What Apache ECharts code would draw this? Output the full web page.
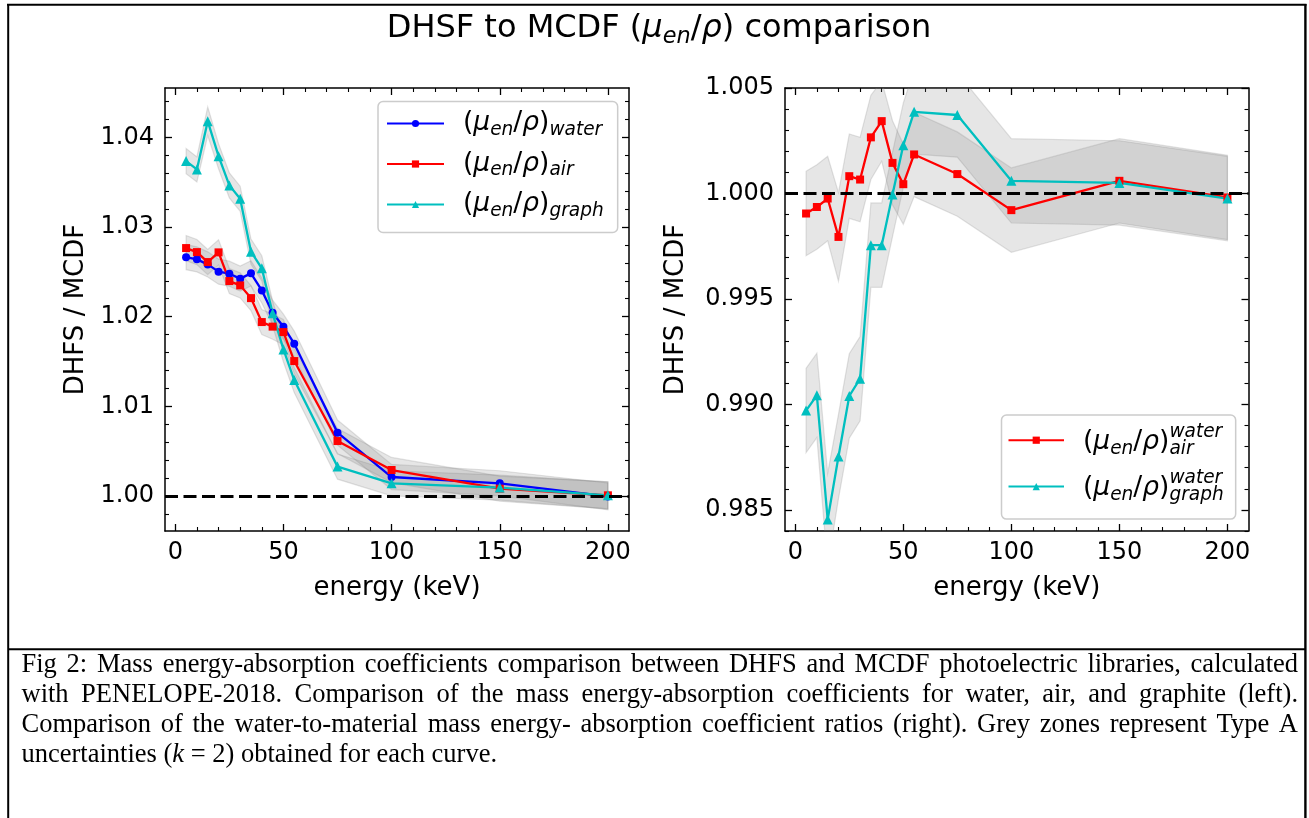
<!DOCTYPE html>
<html><head><meta charset="utf-8">
<script src="https://cdn.jsdelivr.net/npm/echarts@6/dist/echarts.min.js"></script>
<style>html,body{margin:0;padding:0;background:#fff}#c{width:1309px;height:818px}</style>
</head><body><div id="c"></div>
<script>
// ---------------- data ----------------
const energy = [5, 10, 15, 20, 25, 30, 35, 40, 45, 50, 55, 75, 100, 150, 200];
const muWater = [1.02664, 1.02639, 1.02583, 1.02502, 1.02479, 1.02424, 1.02483, 1.02293, 1.02044, 1.01888, 1.01699, 1.00707, 1.00212, 1.00142, 0.99995];
const muAir   = [1.02765, 1.02720, 1.02609, 1.02717, 1.02397, 1.02349, 1.02207, 1.01940, 1.01889, 1.01828, 1.01505, 1.00613, 1.00290, 1.00082, 1.00008];
const muGraph = [1.03735, 1.03642, 1.04180, 1.03790, 1.03464, 1.03315, 1.02725, 1.02539, 1.02037, 1.01635, 1.01293, 1.00328, 1.00142, 1.00094, 1.00008];
const uWater  = [0.0014, 0.0014, 0.0014, 0.0014, 0.0014, 0.0014, 0.0014, 0.0014, 0.0014, 0.0014, 0.0014, 0.0014, 0.0014, 0.0014, 0.0015];
const uAir    = [0.0014, 0.0014, 0.0014, 0.0014, 0.0014, 0.0014, 0.0014, 0.0014, 0.0014, 0.0014, 0.0014, 0.0014, 0.0014, 0.0014, 0.0015];
const uGraph  = [0.0014, 0.0014, 0.0016, 0.0014, 0.0014, 0.0014, 0.0014, 0.0014, 0.0014, 0.0014, 0.0014, 0.0014, 0.0014, 0.0014, 0.0015];
const ratioAir   = [0.99905, 0.99936, 0.99976, 0.99794, 1.00082, 1.00066, 1.00266, 1.00343, 1.00145, 1.00044, 1.00185, 1.00092, 0.99921, 1.00060, 0.99981];
const ratioGraph = [0.98971, 0.99043, 0.98454, 0.98753, 0.99040, 0.99122, 0.99755, 0.99755, 0.99995, 1.00229, 1.00387, 1.00372, 1.00060, 1.00050, 0.99976];
const uRatioAir   = [0.0020, 0.0020, 0.0020, 0.0021, 0.0020, 0.0020, 0.0020, 0.0019, 0.0020, 0.0019, 0.0020, 0.0020, 0.0020, 0.0020, 0.0020];
const uRatioGraph = [0.0020, 0.0020, 0.0022, 0.0020, 0.0020, 0.0020, 0.0020, 0.0020, 0.0020, 0.0020, 0.0020, 0.0020, 0.0020, 0.0020, 0.0020];
const xTicks = [0, 50, 100, 150, 200];
const yTicksLeft = [1.00, 1.01, 1.02, 1.03, 1.04];
const yTicksRight = [0.985, 0.990, 0.995, 1.000, 1.005];
const captionLines = [
  'Fig 2: Mass energy-absorption coefficients comparison between DHFS and MCDF photoelectric libraries, calculated',
  'with PENELOPE-2018. Comparison of the mass energy-absorption coefficients for water, air, and graphite (left).',
  'Comparison of the water-to-material mass energy- absorption coefficient ratios (right). Grey zones represent Type A'
];
const captionLast = 'uncertainties ({k|k} = 2) obtained for each curve.';

// ---------------- styling ----------------
const FONT = 'DejaVu Sans';
const SERIF = 'Liberation Serif';
const TICK_FS = 24, NAME_FS = 26, LEG_FS = 26.5, TITLE_FS = 32, CAP_FS = 26.5;
const BLUE = '#0000ff', RED = '#ff0000', CYAN = '#00bfbf';
const X_RANGE = [-4.75, 209.75];
const Y_LEFT = [0.9961, 1.0455];
const Y_RIGHT = [0.984, 1.005];

function minorTicks(min, max, step, ratio) {
  const out = [];
  for (let k = Math.ceil(min / step - 1e-9); k * step <= max + 1e-9; k++) {
    if (k % ratio !== 0) out.push(+(k * step).toFixed(6));
  }
  return out;
}

const spine = { onZero: false, lineStyle: { color: '#000', width: 1.5 } };
const majorTick = (vals) => ({ inside: true, length: 7, lineStyle: { color: '#000', width: 1.3 }, customValues: vals });
const minorTick = (vals) => ({ inside: true, length: 4, lineStyle: { color: '#000', width: 1.1 }, customValues: vals });

function makeX(g, nameGap) {
  const base = { type: 'value', gridIndex: g, min: X_RANGE[0], max: X_RANGE[1], splitLine: { show: false } };
  const minor = minorTicks(X_RANGE[0], X_RANGE[1], 10, 5);
  return [
    Object.assign({}, base, {
      position: 'bottom', axisLine: spine, axisTick: majorTick(xTicks),
      axisLabel: { customValues: xTicks, fontSize: TICK_FS, fontFamily: FONT, color: '#000', margin: 10 },
      name: 'energy (keV)', nameLocation: 'middle', nameGap: nameGap,
      nameTextStyle: { fontSize: NAME_FS, fontFamily: FONT, color: '#000' }
    }),
    Object.assign({}, base, { position: 'bottom', axisLine: { show: false, onZero: false }, axisTick: minorTick(minor), axisLabel: { show: false } }),
    Object.assign({}, base, { position: 'top', axisLine: spine, axisTick: majorTick(xTicks), axisLabel: { show: false } }),
    Object.assign({}, base, { position: 'top', axisLine: { show: false, onZero: false }, axisTick: minorTick(minor), axisLabel: { show: false } })
  ];
}
function makeY(g, range, major, minorStep, digits, nameGap) {
  const base = { type: 'value', gridIndex: g, min: range[0], max: range[1], splitLine: { show: false } };
  const minor = minorTicks(range[0], range[1], minorStep, 5);
  return [
    Object.assign({}, base, {
      position: 'left', axisLine: spine, axisTick: majorTick(major),
      axisLabel: { customValues: major, fontSize: TICK_FS, fontFamily: FONT, color: '#000', margin: 11,
        formatter: (v) => v.toFixed(digits) },
      name: 'DHFS / MCDF', nameLocation: 'middle', nameGap: nameGap, nameRotate: 90,
      nameTextStyle: { fontSize: NAME_FS, fontFamily: FONT, color: '#000' }
    }),
    Object.assign({}, base, { position: 'left', axisLine: { show: false, onZero: false }, axisTick: minorTick(minor), axisLabel: { show: false } }),
    Object.assign({}, base, { position: 'right', axisLine: spine, axisTick: majorTick(major), axisLabel: { show: false } }),
    Object.assign({}, base, { position: 'right', axisLine: { show: false, onZero: false }, axisTick: minorTick(minor), axisLabel: { show: false } })
  ];
}

function band(xi, yi, xs, ys, us) {
  return {
    type: 'custom', xAxisIndex: xi, yAxisIndex: yi, clip: true, silent: true, z: 1,
    encode: { x: 0, y: 1 },
    data: [[xs[0], ys[0]]],
    renderItem: function (params, api) {
      const pts = [];
      for (let i = 0; i < xs.length; i++) pts.push(api.coord([xs[i], ys[i] + us[i]]));
      for (let i = xs.length - 1; i >= 0; i--) pts.push(api.coord([xs[i], ys[i] - us[i]]));
      return { type: 'polygon', shape: { points: pts },
        style: { fill: 'rgba(128,128,128,0.2)', stroke: 'rgba(128,128,128,0.22)', lineWidth: 1.2 } };
    }
  };
}
function curve(name, xi, yi, ys, color, symbol, size) {
  return {
    name: name, type: 'line', xAxisIndex: xi, yAxisIndex: yi, z: 3,
    data: energy.map((x, i) => [x, ys[i]]),
    symbol: symbol, symbolSize: size, showSymbol: true,
    lineStyle: { color: color, width: 2.3 }, itemStyle: { color: color },
    emphasis: { disabled: true }
  };
}
function dashed(xi, yi) {
  return {
    type: 'line', xAxisIndex: xi, yAxisIndex: yi, data: [], z: 6, silent: true,
    markLine: { silent: true, symbol: 'none', z: 6, label: { show: false },
      lineStyle: { color: '#000', width: 3.2, type: [13, 5.5] },
      emphasis: { disabled: true },
      data: [{ yAxis: 1 }] }
  };
}

// measure width of "(μen/ρ)" for stacked super/subscripts
const cv = document.createElement('canvas').getContext('2d');
function tw(txt, size, italic, fam) { cv.font = (italic ? 'italic ' : '') + size + 'px ' + fam; return cv.measureText(txt).width; }
const SUB_FS = LEG_FS * 0.7;
const W_MAIN = tw('(', LEG_FS, false, FONT) + tw('μ', LEG_FS, true, FONT) + tw('en', SUB_FS, true, FONT)
  + tw('/', LEG_FS, false, FONT) + tw('ρ', LEG_FS, true, FONT) + tw(')', LEG_FS, false, FONT);

const legRichLeft = {
  m: { fontSize: LEG_FS, fontFamily: FONT, color: '#000', lineHeight: 20, height: 20 },
  i: { fontSize: LEG_FS, fontFamily: FONT, fontStyle: 'italic', color: '#000', lineHeight: 20, height: 20 },
  s: { fontSize: SUB_FS, fontFamily: FONT, fontStyle: 'italic', color: '#000', lineHeight: 7, height: 7, verticalAlign: 'bottom' }
};
const legRichRight = {
  m: { fontSize: LEG_FS, fontFamily: FONT, color: '#000', lineHeight: 16, height: 16 },
  i: { fontSize: LEG_FS, fontFamily: FONT, fontStyle: 'italic', color: '#000', lineHeight: 16, height: 16 },
  s: { fontSize: SUB_FS, fontFamily: FONT, fontStyle: 'italic', color: '#000', lineHeight: 2, height: 2, verticalAlign: 'bottom' },
  p: { fontSize: SUB_FS, fontFamily: FONT, fontStyle: 'italic', color: '#000', lineHeight: 4, height: 4, padding: [0, 0, 0, W_MAIN] }
};
const leftLabel = { water: 'water', air: 'air', graph: 'graph' };
const rightLabel = { 'water/air': 'air', 'water/graph': 'graph' };

// caption as justified words
const capEls = [];
const capY = [665, 695, 725];
const CAP_X0 = 21.5, CAP_X1 = 1298;
captionLines.forEach((line, li) => {
  const words = line.split(' ');
  const ws = words.map(w => tw(w, CAP_FS, false, SERIF));
  const total = ws.reduce((a, b) => a + b, 0);
  const gap = (CAP_X1 - CAP_X0 - total) / (words.length - 1);
  let x = CAP_X0;
  words.forEach((w, i) => {
    capEls.push({ type: 'text', x: x, y: capY[li], silent: true,
      style: { text: w, fontSize: CAP_FS, fontFamily: SERIF, fill: '#000', verticalAlign: 'middle', align: 'left' } });
    x += ws[i] + gap;
  });
});
capEls.push({ type: 'text', x: CAP_X0, y: 755, silent: true,
  style: { text: captionLast, fontSize: CAP_FS, fontFamily: SERIF, fill: '#000', verticalAlign: 'middle', align: 'left',
    rich: { k: { fontSize: CAP_FS, fontFamily: SERIF, fontStyle: 'italic', fill: '#000' } } } });

const frame = [
  { type: 'line', shape: { x1: 7, y1: 4.8, x2: 1306.5, y2: 4.8 }, style: { stroke: '#000', lineWidth: 2 } },
  { type: 'line', shape: { x1: 8.2, y1: 4, x2: 8.2, y2: 818 }, style: { stroke: '#000', lineWidth: 2 } },
  { type: 'line', shape: { x1: 1305.4, y1: 4, x2: 1305.4, y2: 818 }, style: { stroke: '#000', lineWidth: 2.4 } },
  { type: 'line', shape: { x1: 8, y1: 649.3, x2: 1306, y2: 649.3 }, style: { stroke: '#000', lineWidth: 2 } }
];

const option = {
  animation: false,
  backgroundColor: '#ffffff',
  title: {
    text: '{n|DHSF to MCDF (}{i|μ}{s|en}{n|/}{i|ρ}{n|) comparison}',
    left: 659, top: 12, textAlign: 'center', padding: 0,
    textStyle: { fontWeight: 'normal', rich: {
      n: { fontSize: TITLE_FS, fontFamily: FONT, fontWeight: 'normal', color: '#000', lineHeight: 34, height: 34 },
      i: { fontSize: TITLE_FS, fontFamily: FONT, fontWeight: 'normal', fontStyle: 'italic', color: '#000', lineHeight: 34, height: 34 },
      s: { fontSize: TITLE_FS * 0.7, fontFamily: FONT, fontWeight: 'normal', fontStyle: 'italic', color: '#000', lineHeight: 18, height: 18, verticalAlign: 'bottom' }
    } }
  },
  grid: [
    { left: 165, top: 88, width: 464, height: 443, containLabel: false, outerBoundsMode: 'none' },
    { left: 785, top: 88, width: 463.5, height: 443, containLabel: false, outerBoundsMode: 'none' }
  ],
  xAxis: makeX(0, 44).concat(makeX(1, 44)),
  yAxis: makeY(0, Y_LEFT, yTicksLeft, 0.002, 2, 76).concat(makeY(1, Y_RIGHT, yTicksRight, 0.001, 3, 96)),
  legend: [
    { data: ['water', 'air', 'graph'], orient: 'vertical', left: 378, top: 101.5,
      itemWidth: 57, itemHeight: 9, itemGap: 11, padding: [8.5, 14, 12, 8], selectedMode: false,
      backgroundColor: 'rgba(255,255,255,0.8)', borderColor: '#cccccc', borderWidth: 1.5, borderRadius: 5,
      formatter: (n) => '{m|(}{i|μ}{s|en}{m|/}{i|ρ}{m|)}{s|' + leftLabel[n] + '}',
      textStyle: { padding: [0, 0, 0, 14], fontSize: 4, lineHeight: 4, rich: legRichLeft } },
    { data: ['water/air', 'water/graph'], orient: 'vertical', left: 1001.5, top: 415,
      itemWidth: 55.5, itemHeight: 9, itemGap: 10.4, padding: [7.7, 12, 14, 6], selectedMode: false,
      backgroundColor: 'rgba(255,255,255,0.8)', borderColor: '#cccccc', borderWidth: 1.5, borderRadius: 5,
      formatter: (n) => '{p|water}\n{m|(}{i|μ}{s|en}{m|/}{i|ρ}{m|)}{s|' + rightLabel[n] + '}',
      textStyle: { padding: [0, 0, 0, 14], fontSize: 4, lineHeight: 4, rich: legRichRight } }
  ],
  series: [
    band(0, 0, energy, muWater, uWater),
    band(0, 0, energy, muAir, uAir),
    band(0, 0, energy, muGraph, uGraph),
    curve('water', 0, 0, muWater, BLUE, 'circle', 8),
    curve('air', 0, 0, muAir, RED, 'rect', 8),
    curve('graph', 0, 0, muGraph, CYAN, 'triangle', 10),
    dashed(0, 0),
    band(4, 4, energy, ratioAir, uRatioAir),
    band(4, 4, energy, ratioGraph, uRatioGraph),
    curve('water/air', 4, 4, ratioAir, RED, 'rect', 8),
    curve('water/graph', 4, 4, ratioGraph, CYAN, 'triangle', 10),
    dashed(4, 4)
  ],
  graphic: { elements: frame.concat(capEls) }
};

const chart = echarts.init(document.getElementById('c'), null, { renderer: 'canvas' });
chart.setOption(option);
</script>
</body></html>
